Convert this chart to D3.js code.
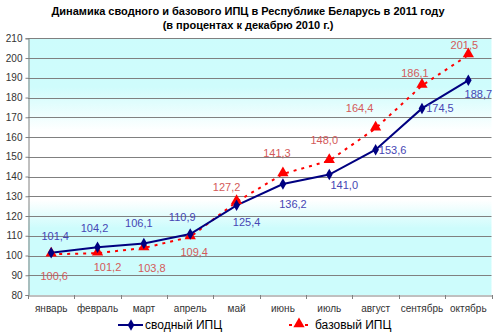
<!DOCTYPE html>
<html><head><meta charset="utf-8">
<script src="https://cdn.jsdelivr.net/npm/d3@7"></script>
<style>body{margin:0;background:#fff;}svg{display:block;font-family:Arial,"Liberation Sans",sans-serif;}</style>
</head><body><svg id="c" width="497" height="336"></svg>
<script>
const months = ["январь","февраль","март","апрель","май","июнь","июль","август","сентябрь","октябрь"];
const svodny = [101.4,104.2,106.1,110.9,125.4,136.2,141.0,153.6,174.5,188.7];
const bazovy = [100.6,101.2,103.8,109.4,127.2,141.3,148.0,164.4,186.1,201.5];
const yTicks = [80,90,100,110,120,130,140,150,160,170,180,190,200,210];
const seriesNames = ["сводный ИПЦ","базовый ИПЦ"];
const titleLines = ["Динамика сводного и базового ИПЦ в Республике Беларусь в 2011 году","(в процентах к декабрю 2010 г.)"];
// label placement offsets (dx, dy) relative to the marker
const off1 = [[4,-17],[-3,-19],[-5,-20],[-8,-17],[10,17],[10,20],[15,10],[17,0],[18,0],[10,14]];
const off2 = [[3,22],[10,14],[8,20],[4,15],[-10,-15],[-6,-21],[-5,-21],[-16,-20],[-7,-12],[-4,-10]];

const svg = d3.select("#c");
const L = 28, R = 491.5, T = 38.3, B = 295;
const x = d3.scaleBand().domain(months).range([L, R]);
const y = d3.scaleLinear().domain([80,210]).range([B, T]);
const fmt = v => d3.format(".1f")(v).replace(".", ",");

const defs = svg.append("defs");
const g = defs.append("linearGradient").attr("id","bg").attr("x1",0).attr("y1",0).attr("x2",0).attr("y2",1);
[[0,"#cdfcfc"],[0.19,"#cffcfc"],[0.36,"#ffffff"],[0.63,"#ffffff"],[0.74,"#cdfcfc"],[1,"#cdfcfc"]]
  .forEach(([o,c]) => g.append("stop").attr("offset",o).attr("stop-color",c));

svg.append("rect").attr("x",L).attr("y",T).attr("width",R-L).attr("height",B-T).attr("fill","url(#bg)");

// gridlines
svg.append("g").selectAll("line").data(yTicks.filter(v=>v>80)).join("line")
  .attr("x1",L).attr("x2",R).attr("y1",d=>Math.round(y(d))+0.5).attr("y2",d=>Math.round(y(d))+0.5)
  .attr("stroke","#808080").attr("stroke-width",1);

// y axis
const ya = svg.append("g").attr("transform",`translate(${L+0.5},0)`)
  .call(d3.axisLeft(y).tickValues(yTicks).tickSize(3).tickPadding(3).tickFormat(d3.format("d")));
ya.select(".domain").attr("stroke","#808080");
ya.selectAll(".tick line").attr("stroke","#808080");
ya.selectAll("text").attr("font-size",10).attr("fill","#333").attr("font-family","Arial");

// x axis
const xa = svg.append("g").attr("transform",`translate(0,${Math.round(B)+0.5})`)
  .call(d3.axisBottom(x).tickSize(0).tickPadding(9));
xa.select(".domain").attr("stroke","#808080");
xa.selectAll("text").attr("font-size",10).attr("fill","#333").attr("font-family","Arial");
svg.append("g").selectAll("line").data(d3.range(months.length+1)).join("line")
  .attr("x1",i=>Math.round(L+i*x.step())+0.5).attr("x2",i=>Math.round(L+i*x.step())+0.5)
  .attr("y1",B).attr("y2",B+4).attr("stroke","#808080");

const cx = (d,i) => x(months[i]) + x.bandwidth()/2;

// series 2 (red dashed)
const line = d3.line().x((d,i)=>cx(d,i)).y(d=>y(d));
svg.append("path").datum(bazovy).attr("d",line).attr("fill","none")
  .attr("stroke","#ff0000").attr("stroke-width",2).attr("stroke-dasharray","3,5");
// series 1 (navy)
svg.append("path").datum(svodny).attr("d",line).attr("fill","none")
  .attr("stroke","#000080").attr("stroke-width",2);

const tri = d3.symbol().type(d3.symbolTriangle).size(55);
const dia = d3.symbol().type(d3.symbolDiamond).size(38);
svg.append("g").selectAll("path").data(bazovy).join("path")
  .attr("d",tri).attr("transform",(d,i)=>`translate(${cx(d,i)},${y(d)-1})`).attr("fill","#ff0000");
svg.append("g").selectAll("path").data(svodny).join("path")
  .attr("d",dia).attr("transform",(d,i)=>`translate(${cx(d,i)},${y(d)})`).attr("fill","#000080");

// labels
svg.append("g").selectAll("text").data(svodny).join("text")
  .attr("x",(d,i)=>cx(d,i)+off1[i][0]).attr("y",(d,i)=>y(d)+off1[i][1])
  .attr("text-anchor","middle").attr("dominant-baseline","central")
  .attr("font-size",11).attr("fill","#4646b4").text(fmt);
svg.append("g").selectAll("text").data(bazovy).join("text")
  .attr("x",(d,i)=>cx(d,i)+off2[i][0]).attr("y",(d,i)=>y(d)+off2[i][1])
  .attr("text-anchor","middle").attr("dominant-baseline","central")
  .attr("font-size",11).attr("fill","#d45a5a").text(fmt);

// title
svg.append("g").selectAll("text").data(titleLines).join("text")
  .attr("x",248).attr("y",(d,i)=>11+i*14).attr("text-anchor","middle").attr("dominant-baseline","central")
  .attr("font-size",11).attr("font-weight","bold").attr("fill","#000").text(d=>d);

// legend
const lg = svg.append("g");
lg.append("line").attr("x1",118).attr("x2",143).attr("y1",325).attr("y2",325).attr("stroke","#000080").attr("stroke-width",2);
lg.append("path").attr("d",dia).attr("transform","translate(131,325)").attr("fill","#000080");
lg.append("text").attr("x",145).attr("y",325).attr("dominant-baseline","central").attr("font-size",12).text(seriesNames[0]);
lg.append("line").attr("x1",288).attr("x2",310).attr("y1",325).attr("y2",325).attr("stroke","#ff0000").attr("stroke-width",2).attr("stroke-dasharray","3,5").attr("stroke-dashoffset",-1);
lg.append("path").attr("d",tri).attr("transform","translate(299,324)").attr("fill","#ff0000");
lg.append("text").attr("x",315).attr("y",325).attr("dominant-baseline","central").attr("font-size",12).text(seriesNames[1]);
</script></body></html>
